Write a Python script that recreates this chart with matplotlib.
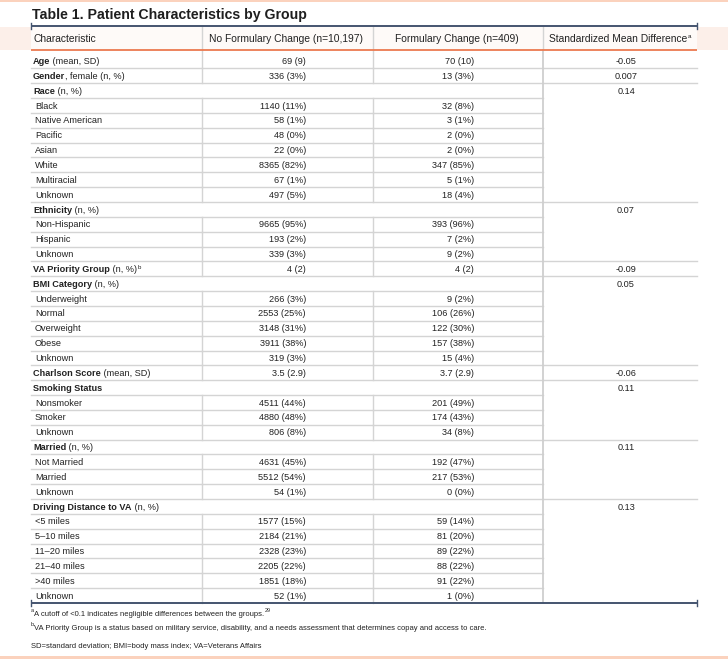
import matplotlib
matplotlib.use("Agg")
import matplotlib.pyplot as plt
from matplotlib.patches import Rectangle
import warnings
warnings.filterwarnings("ignore")

# ---------------- data ----------------
title = "Table 1. Patient Characteristics by Group"
col_headers = ["Characteristic", "No Formulary Change (n=10,197)",
               "Formulary Change (n=409)", "Standardized Mean Difference"]
header_sup = ["", "", "", "a"]

group_bold = ["Age", "Gender", "Race", "Ethnicity", "VA Priority Group",
              "BMI Category", "Charlson Score", "Smoking Status", "Married",
              "Driving Distance to VA"]
group_rest = [" (mean, SD)", ", female (n, %)", " (n, %)", " (n, %)", " (n, %)",
              " (n, %)", " (mean, SD)", "", " (n, %)", " (n, %)"]
group_sup = ["", "", "", "", "b", "", "", "", "", ""]
group_no_change = ["69 (9)", "336 (3%)", "", "", "4 (2)", "", "3.5 (2.9)", "", "", ""]
group_change = ["70 (10)", "13 (3%)", "", "", "4 (2)", "", "3.7 (2.9)", "", "", ""]
smd = ["-0.05", "0.007", "0.14", "0.07", "-0.09", "0.05", "-0.06", "0.11", "0.11", "0.13"]

sub_labels = [
    [], [],
    ["Black", "Native American", "Pacific", "Asian", "White", "Multiracial", "Unknown"],
    ["Non-Hispanic", "Hispanic", "Unknown"],
    [],
    ["Underweight", "Normal", "Overweight", "Obese", "Unknown"],
    [],
    ["Nonsmoker", "Smoker", "Unknown"],
    ["Not Married", "Married", "Unknown"],
    ["<5 miles", "5\u201310 miles", "11\u201320 miles", "21\u201340 miles", ">40 miles", "Unknown"],
]
sub_no_change = [
    [], [],
    ["1140 (11%)", "58 (1%)", "48 (0%)", "22 (0%)", "8365 (82%)", "67 (1%)", "497 (5%)"],
    ["9665 (95%)", "193 (2%)", "339 (3%)"],
    [],
    ["266 (3%)", "2553 (25%)", "3148 (31%)", "3911 (38%)", "319 (3%)"],
    [],
    ["4511 (44%)", "4880 (48%)", "806 (8%)"],
    ["4631 (45%)", "5512 (54%)", "54 (1%)"],
    ["1577 (15%)", "2184 (21%)", "2328 (23%)", "2205 (22%)", "1851 (18%)", "52 (1%)"],
]
sub_change = [
    [], [],
    ["32 (8%)", "3 (1%)", "2 (0%)", "2 (0%)", "347 (85%)", "5 (1%)", "18 (4%)"],
    ["393 (96%)", "7 (2%)", "9 (2%)"],
    [],
    ["9 (2%)", "106 (26%)", "122 (30%)", "157 (38%)", "15 (4%)"],
    [],
    ["201 (49%)", "174 (43%)", "34 (8%)"],
    ["192 (47%)", "217 (53%)", "0 (0%)"],
    ["59 (14%)", "81 (20%)", "89 (22%)", "88 (22%)", "91 (22%)", "1 (0%)"],
]

footnote_a = "A cutoff of <0.1 indicates negligible differences between the groups."
footnote_a_ref = "29"
footnote_b = "VA Priority Group is a status based on military service, disability, and a needs assessment that determines copay and access to care."
footnote_abbrev = "SD=standard deviation; BMI=body mass index; VA=Veterans Affairs"

# ---------------- layout ----------------
W, H = 728, 659
fig = plt.figure(figsize=(W / 100, H / 100), dpi=100)
ax = fig.add_axes([0, 0, 1, 1])
ax.set_xlim(0, W)
ax.set_ylim(H, 0)
ax.axis("off")
renderer = fig.canvas.get_renderer()

FONT = ["Liberation Sans", "DejaVu Sans"]
TXT = "#222222"
GRID = "#d4d4d4"
DARK = "#44546f"
ORANGE = "#ec7a50"
PEACH = "#fbd2bd"

X0, X1, X2, X3, X4 = 31, 202, 373, 543, 697
HEAD_TOP, HEAD_BOT = 27, 49.5
BODY_TOP = 53.5
TABLE_BOT = 603
BODY_FS = 6.6
HEAD_FS = 7.4


def text_w(t):
    return t.get_window_extent(renderer=renderer).width


def put(x, y, s, fs=BODY_FS, weight="normal", ha="left", color=TXT):
    return ax.text(x, y, s, fontsize=fs, fontweight=weight, ha=ha, va="baseline",
                   family=FONT, color=color)


# peach frame lines
ax.add_patch(Rectangle((0, 0), W, 2.2, color=PEACH, lw=0))
ax.add_patch(Rectangle((0, 655.5), W, 3, color=PEACH, lw=0))

# title
ax.text(32, 19.5, title, fontsize=10.2, fontweight="bold", family=FONT,
        color="#1e1e1e", ha="left", va="baseline")

# header band
ax.add_patch(Rectangle((0, HEAD_TOP), W, HEAD_BOT - HEAD_TOP, color="#fcefe9", lw=0))
ax.add_patch(Rectangle((X0, HEAD_TOP), X4 - X0, HEAD_BOT - HEAD_TOP, color="#fefaf8", lw=0))

# build rows
rows = []  # (label_bold, label_rest, sup, is_sub, v1, v2, smd, spanning)
group_start = []
for g in range(len(group_bold)):
    group_start.append(len(rows))
    spanning = group_no_change[g] == "" and group_change[g] == ""
    rows.append((group_bold[g], group_rest[g], group_sup[g], False,
                 group_no_change[g], group_change[g], smd[g], spanning))
    for lab, a, b in zip(sub_labels[g], sub_no_change[g], sub_change[g]):
        rows.append(("", lab, "", True, a, b, "", False))
n = len(rows)
RH = (TABLE_BOT - BODY_TOP) / n

# header texts
hb = (HEAD_TOP + HEAD_BOT) / 2 + 3.4
put(34, hb, col_headers[0], fs=HEAD_FS)
put(286, hb, col_headers[1], fs=HEAD_FS, ha="center")
put(457, hb, col_headers[2], fs=HEAD_FS, ha="center")
t = put(618, hb, col_headers[3], fs=HEAD_FS, ha="center")
tw = text_w(t)
put(618 + tw / 2 + 0.3, hb - 3.5, header_sup[3], fs=4.6)

# header vertical separators
for x in (X1, X2, X3):
    ax.plot([x, x], [HEAD_TOP, HEAD_BOT], color=GRID, lw=1.0)

# body
for i, (lb, lr, sup, is_sub, v1, v2, sv, spanning) in enumerate(rows):
    top = BODY_TOP + i * RH
    bot = top + RH
    base = top + RH / 2 + 3.1
    vtop = HEAD_BOT if i == 0 else top
    if is_sub:
        put(35, base, lr)
    else:
        tb = put(33, base, lb, weight="bold")
        x = 33 + text_w(tb)
        if lr:
            tr = put(x, base, lr)
            x += text_w(tr)
        if sup:
            put(x + 0.5, base - 3.2, sup, fs=4.4)
    if v1:
        put(306, base, v1, ha="right")
    if v2:
        put(474, base, v2, ha="right")
    if sv:
        put(626, base, sv, ha="center")
    # vertical separators
    if not spanning:
        for x in (X1, X2):
            ax.plot([x, x], [vtop, bot], color=GRID, lw=1.0)
    # horizontal separator below row
    if i < n - 1:
        ax.plot([X0, X3], [bot, bot], color=GRID, lw=1.0)
        if (i + 1) in group_start:
            ax.plot([X3, X4], [bot, bot], color=GRID, lw=1.0)

ax.plot([X3, X3], [HEAD_BOT, TABLE_BOT], color="#cfcfcf", lw=1.3)

# rule lines
ax.plot([X0, X4], [HEAD_BOT, HEAD_BOT], color=ORANGE, lw=1.3, solid_capstyle="butt")
for y in (26, TABLE_BOT):
    ax.plot([X0, X4], [y, y], color=DARK, lw=1.4, solid_capstyle="butt")
    for x in (X0, X4):
        ax.plot([x, x], [y - 3, y + 3], color=DARK, lw=1.0)

# footnotes
FN_FS = 5.5
sa = put(31, 612.5, "a", fs=4.0)
ta = put(31 + text_w(sa), 616, footnote_a, fs=FN_FS)
put(31 + text_w(sa) + text_w(ta) + 1, 612.5, footnote_a_ref, fs=4.0)
sb = put(31, 626.5, "b", fs=4.0)
put(31 + text_w(sb), 630, footnote_b, fs=FN_FS)
put(31, 648, footnote_abbrev, fs=FN_FS)

fig.savefig("out.png", dpi=100)
